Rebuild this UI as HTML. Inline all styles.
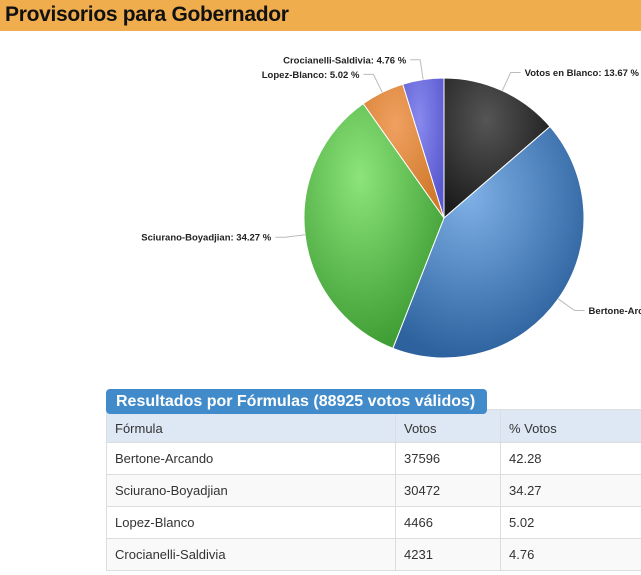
<!DOCTYPE html>
<html><head><meta charset="utf-8"><style>
body{margin:0;width:641px;height:575px;overflow:hidden;background:#fff;font-family:"Liberation Sans",sans-serif;position:relative}
.hdr{position:absolute;left:0;top:0;width:641px;height:31px;background:#f0ad4e}
.hdr h1{margin:0;font-size:21px;font-weight:bold;color:#111;position:absolute;left:5px;top:3px;letter-spacing:-0.3px}
svg{position:absolute;left:0;top:0}
.tab{position:absolute;left:106px;top:389px;width:381px;height:25px;background:#428bca;border-radius:4px;color:#fff;font-weight:bold;font-size:16px;line-height:25px;padding-left:10px;box-sizing:border-box;z-index:2}
table{position:absolute;left:106px;top:409px;width:560px;border-collapse:collapse;font-size:13px;color:#333}
td{border:1px solid #ddd;height:32px;padding:0 8px;box-sizing:border-box}
tr.h td{background:#dde8f4;height:33px;padding-top:4px}
tr:nth-child(odd):not(.h) td{background:#f9f9f9}
</style></head><body>
<div class="hdr"><h1>Provisorios para Gobernador</h1></div>
<svg id="pie" width="641" height="380">
<defs>
<radialGradient id="g0" cx="40%" cy="30%" r="70%"><stop offset="0" stop-color="#555"/><stop offset="1" stop-color="#1c1c1c"/></radialGradient>
<radialGradient id="g1" cx="40%" cy="30%" r="70%"><stop offset="0" stop-color="#7fb0e6"/><stop offset="1" stop-color="#2d629e"/></radialGradient>
<radialGradient id="g2" cx="40%" cy="30%" r="70%"><stop offset="0" stop-color="#8ce47a"/><stop offset="1" stop-color="#3f9e35"/></radialGradient>
<radialGradient id="g3" cx="40%" cy="30%" r="70%"><stop offset="0" stop-color="#f0a060"/><stop offset="1" stop-color="#d07a2c"/></radialGradient>
<radialGradient id="g4" cx="40%" cy="30%" r="70%"><stop offset="0" stop-color="#8888ee"/><stop offset="1" stop-color="#5a5ad0"/></radialGradient>
</defs>
</svg>
<div class="tab">Resultados por Fórmulas (88925 votos válidos)</div>
<table>
<tr class="h"><td style="width:289px">Fórmula</td><td style="width:105px">Votos</td><td>% Votos</td></tr>
<tr><td>Bertone-Arcando</td><td>37596</td><td>42.28</td></tr>
<tr><td>Sciurano-Boyadjian</td><td>30472</td><td>34.27</td></tr>
<tr><td>Lopez-Blanco</td><td>4466</td><td>5.02</td></tr>
<tr><td>Crocianelli-Saldivia</td><td>4231</td><td>4.76</td></tr>
</table>
<script>
const categories=["Votos en Blanco","Bertone-Arcando","Sciurano-Boyadjian","Lopez-Blanco","Crocianelli-Saldivia"];
const values=[13.67,42.28,34.27,5.02,4.76];
const labels=["Votos en Blanco: 13.67 %","Bertone-Arcando: 42.28 %","Sciurano-Boyadjian: 34.27 %","Lopez-Blanco: 5.02 %","Crocianelli-Saldivia: 4.76 %"];
const svg=document.getElementById('pie');const NS="http://www.w3.org/2000/svg";
const cx=444,cy=218,r=140;
const total=values.reduce((a,b)=>a+b,0);
function pt(a,rr){return [cx+rr*Math.sin(a),cy-rr*Math.cos(a)];}
let a0=0;
values.forEach((v,i)=>{
  const a1=a0+v/total*2*Math.PI;
  const p0=pt(a0,r),p1=pt(a1,r);
  const p=document.createElementNS(NS,'path');
  p.setAttribute('d',`M${cx},${cy}L${p0[0]},${p0[1]}A${r},${r} 0 ${a1-a0>Math.PI?1:0} 1 ${p1[0]},${p1[1]}Z`);
  p.setAttribute('fill',`url(#g${i})`);p.setAttribute('stroke','#fff');p.setAttribute('stroke-width','1');
  
  
  svg.appendChild(p);
  const m=(a0+a1)/2;const e=pt(m,r),q=pt(m,r+20);
  const right=Math.sin(m)>=0;const ex=q[0]+(right?10:-10);
  const l=document.createElementNS(NS,'path');
  l.setAttribute('d',`M${e[0]},${e[1]}L${q[0]},${q[1]}L${ex},${q[1]}`);
  l.setAttribute('fill','none');l.setAttribute('stroke','#bbb');
  
  
  svg.appendChild(l);
  const t=document.createElementNS(NS,'text');
  t.setAttribute('x',ex+(right?4:-4));t.setAttribute('y',q[1]+3.5);
  t.setAttribute('text-anchor',right?'start':'end');
  t.setAttribute('font-size','9.5');t.setAttribute('font-weight','bold');t.setAttribute('fill','#222');
  t.setAttribute('font-family','"Liberation Sans",sans-serif');
  
  
  t.textContent=labels[i];svg.appendChild(t);
  a0=a1;
});
</script>
</body></html>
